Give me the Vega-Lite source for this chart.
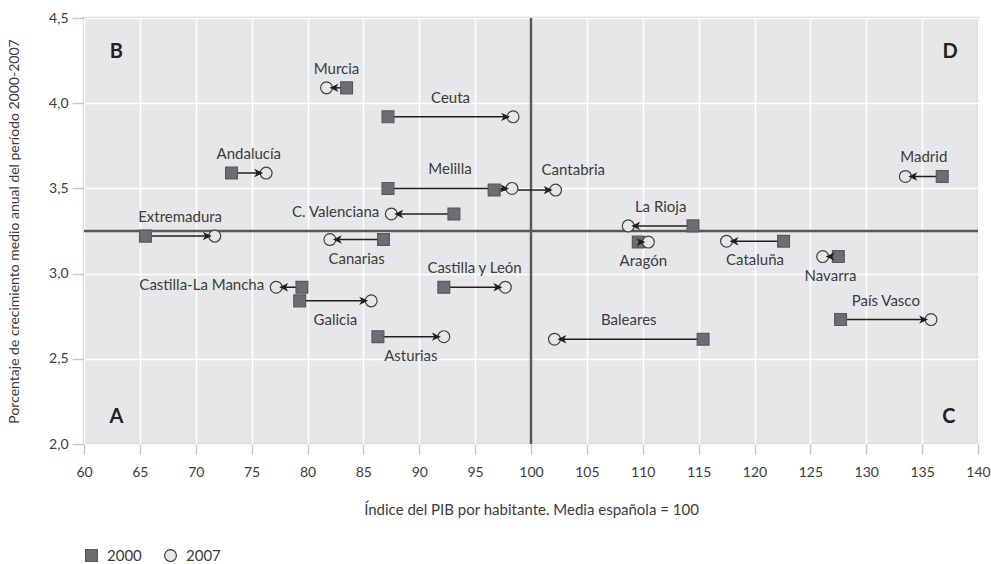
{
  "$schema": "https://vega.github.io/schema/vega-lite/v6.json",
  "width": 894,
  "height": 426,
  "autosize": {"type": "none"},
  "padding": {"left": 84, "top": 18, "right": 13, "bottom": 120},
  "background": "white",
  "config": {
    "view": {"fill": "#e6e7e8", "stroke": "#d1d3d4", "strokeWidth": 2.5},
    "font": "Lato",
    "axis": {
      "domain": false,
      "grid": true,
      "gridColor": "#ffffff",
      "gridWidth": 1.5,
      "tickColor": "#c7c8ca",
      "tickWidth": 1.5,
      "labelFont": "Lato",
      "labelFontSize": 14,
      "labelColor": "#3c3c3c",
      "labelFlush": false,
      "labelOverlap": false,
      "titleFont": "Lato",
      "titleFontSize": 15,
      "titleFontWeight": "normal",
      "titleColor": "#3c3c3c"
    },
    "legend": {
      "orient": "none",
      "legendX": 0,
      "legendY": 530,
      "direction": "horizontal",
      "labelFont": "Lato",
      "labelFontSize": 15,
      "labelColor": "#3c3c3c",
      "columnPadding": 20,
      "labelOffset": 8,
      "symbolSize": 140,
      "symbolStrokeWidth": 1.2,
      "padding": 0
    }
  },
  "datasets": {
    "regiones": [
      {"region": "Murcia", "p2000": 83.5, "p2007": 81.7, "y": 4.09, "lado": "arriba"},
      {"region": "Ceuta", "p2000": 87.2, "p2007": 98.4, "y": 3.92, "lado": "arriba"},
      {"region": "Andalucía", "p2000": 73.2, "p2007": 76.3, "y": 3.59, "lado": "arriba"},
      {"region": "Melilla", "p2000": 87.2, "p2007": 98.3, "y": 3.5, "lado": "arriba"},
      {"region": "Cantabria", "p2000": 96.7, "p2007": 102.2, "y": 3.49, "lado": "arriba-derecha"},
      {"region": "C. Valenciana", "p2000": 93.1, "p2007": 87.5, "y": 3.35, "lado": "izquierda"},
      {"region": "Extremadura", "p2000": 65.5, "p2007": 71.7, "y": 3.22, "lado": "arriba"},
      {"region": "Canarias", "p2000": 86.8, "p2007": 82.0, "y": 3.2, "lado": "abajo"},
      {"region": "La Rioja", "p2000": 114.5, "p2007": 108.7, "y": 3.28, "lado": "arriba"},
      {"region": "Aragón", "p2000": 109.6, "p2007": 110.5, "y": 3.185, "lado": "abajo"},
      {"region": "Cataluña", "p2000": 122.6, "p2007": 117.5, "y": 3.19, "lado": "abajo"},
      {"region": "Navarra", "p2000": 127.5, "p2007": 126.1, "y": 3.1, "lado": "abajo"},
      {"region": "Castilla-La Mancha", "p2000": 79.5, "p2007": 77.2, "y": 2.92, "lado": "izquierda"},
      {"region": "Castilla y León", "p2000": 92.2, "p2007": 97.7, "y": 2.92, "lado": "arriba"},
      {"region": "Galicia", "p2000": 79.3, "p2007": 85.7, "y": 2.84, "lado": "abajo"},
      {"region": "País Vasco", "p2000": 127.7, "p2007": 135.8, "y": 2.73, "lado": "arriba"},
      {"region": "Asturias", "p2000": 86.3, "p2007": 92.2, "y": 2.63, "lado": "abajo"},
      {"region": "Baleares", "p2000": 115.4, "p2007": 102.1, "y": 2.615, "lado": "arriba"},
      {"region": "Madrid", "p2000": 136.8, "p2007": 133.5, "y": 3.57, "lado": "arriba"}
    ],
    "cuadrantes": [
      {"letra": "B", "lx": 62.9, "ly": 4.3},
      {"letra": "D", "lx": 137.5, "ly": 4.3},
      {"letra": "A", "lx": 62.9, "ly": 2.16},
      {"letra": "C", "lx": 137.4, "ly": 2.16}
    ],
    "referencias": [{"xref": 100, "yref": 3.25}]
  },
  "layer": [
    {
      "data": {"name": "referencias"},
      "mark": {"type": "rule", "color": "#58595b", "strokeWidth": 2.5},
      "encoding": {
        "x": {
          "field": "xref",
          "type": "quantitative",
          "title": "Índice del PIB por habitante. Media española = 100",
          "scale": {"domain": [60, 140], "nice": false, "zero": false},
          "axis": {
            "values": [60, 65, 70, 75, 80, 85, 90, 95, 100, 105, 110, 115, 120, 125, 130, 135, 140],
            "tickSize": 10,
            "labelPadding": 11,
            "titlePadding": 23
          }
        }
      }
    },
    {
      "data": {"name": "referencias"},
      "mark": {"type": "rule", "color": "#58595b", "strokeWidth": 2.5},
      "encoding": {
        "y": {
          "field": "yref",
          "type": "quantitative",
          "title": "Porcentaje de crecimiento medio anual del período 2000-2007",
          "scale": {"domain": [2, 4.5], "nice": false, "zero": false},
          "axis": {
            "values": [2, 2.5, 3, 3.5, 4, 4.5],
            "labelExpr": "replace(format(datum.value, '.1f'), '.', ',')",
            "tickSize": 12,
            "labelPadding": 4,
            "labelBaseline": "middle",
            "titleFontSize": 14,
            "titlePadding": 27
          }
        }
      }
    },
    {
      "data": {"name": "regiones"},
      "mark": {"type": "rule", "color": "#231f20", "strokeWidth": 1.5},
      "encoding": {
        "x": {"field": "p2000", "type": "quantitative"},
        "x2": {"field": "p2007"},
        "y": {"field": "y", "type": "quantitative"}
      }
    },
    {
      "data": {"name": "regiones"},
      "transform": [{"fold": ["p2000", "p2007"], "as": ["año", "xv"]}],
      "mark": {"type": "point", "filled": true, "size": 140, "strokeWidth": 1.2, "opacity": 1},
      "encoding": {
        "x": {"field": "xv", "type": "quantitative"},
        "y": {"field": "y", "type": "quantitative"},
        "shape": {
          "field": "año",
          "type": "nominal",
          "scale": {"domain": ["p2000", "p2007"], "range": ["square", "circle"]},
          "legend": {"title": null, "labelExpr": "datum.label == 'p2000' ? '2000' : '2007'"}
        },
        "fill": {
          "field": "año",
          "type": "nominal",
          "scale": {"domain": ["p2000", "p2007"], "range": ["#6d6e71", "#e6e7e8"]},
          "legend": {"title": null, "labelExpr": "datum.label == 'p2000' ? '2000' : '2007'"}
        },
        "stroke": {
          "field": "año",
          "type": "nominal",
          "scale": {"domain": ["p2000", "p2007"], "range": ["#58595b", "#414042"]},
          "legend": {"title": null, "labelExpr": "datum.label == 'p2000' ? '2000' : '2007'"}
        }
      }
    },
    {
      "data": {"name": "regiones"},
      "mark": {
        "type": "point",
        "filled": true,
        "shape": "M-0.3,0L-1.2,-0.42L-0.95,0L-1.2,0.42Z",
        "size": 400,
        "color": "#231f20",
        "strokeWidth": 0,
        "opacity": 1
      },
      "encoding": {
        "x": {"field": "p2007", "type": "quantitative"},
        "y": {"field": "y", "type": "quantitative"},
        "angle": {"condition": {"test": "datum.p2007 < datum.p2000", "value": 180}, "value": 0}
      }
    },
    {
      "data": {"name": "regiones"},
      "transform": [
        {"filter": "datum.lado == 'arriba'"},
        {"fold": ["p2000", "p2007"], "as": ["año", "xv"]}
      ],
      "mark": {"type": "text", "dy": -19, "baseline": "middle", "align": "center", "fontSize": 15, "color": "#3c3c3c", "font": "Lato"},
      "encoding": {
        "x": {"field": "xv", "type": "quantitative", "aggregate": "mean"},
        "y": {"field": "y", "type": "quantitative"},
        "text": {"field": "region", "type": "nominal"}
      }
    },
    {
      "data": {"name": "regiones"},
      "transform": [
        {"filter": "datum.lado == 'abajo'"},
        {"fold": ["p2000", "p2007"], "as": ["año", "xv"]}
      ],
      "mark": {"type": "text", "dy": 19, "baseline": "middle", "align": "center", "fontSize": 15, "color": "#3c3c3c", "font": "Lato"},
      "encoding": {
        "x": {"field": "xv", "type": "quantitative", "aggregate": "mean"},
        "y": {"field": "y", "type": "quantitative"},
        "text": {"field": "region", "type": "nominal"}
      }
    },
    {
      "data": {"name": "regiones"},
      "transform": [{"filter": "datum.lado == 'izquierda'"}],
      "mark": {"type": "text", "dx": -12, "dy": -2, "baseline": "middle", "align": "right", "fontSize": 15, "color": "#3c3c3c", "font": "Lato"},
      "encoding": {
        "x": {"field": "p2007", "type": "quantitative"},
        "y": {"field": "y", "type": "quantitative"},
        "text": {"field": "region", "type": "nominal"}
      }
    },
    {
      "data": {"name": "regiones"},
      "transform": [{"filter": "datum.lado == 'arriba-derecha'"}],
      "mark": {"type": "text", "dx": -14, "dy": -20, "baseline": "middle", "align": "left", "fontSize": 15, "color": "#3c3c3c", "font": "Lato"},
      "encoding": {
        "x": {"field": "p2007", "type": "quantitative"},
        "y": {"field": "y", "type": "quantitative"},
        "text": {"field": "region", "type": "nominal"}
      }
    },
    {
      "data": {"name": "cuadrantes"},
      "mark": {"type": "text", "baseline": "middle", "align": "center", "fontSize": 20, "fontWeight": "bold", "color": "#231f20", "font": "Lato"},
      "encoding": {
        "x": {"field": "lx", "type": "quantitative"},
        "y": {"field": "ly", "type": "quantitative"},
        "text": {"field": "letra", "type": "nominal"}
      }
    }
  ]
}
